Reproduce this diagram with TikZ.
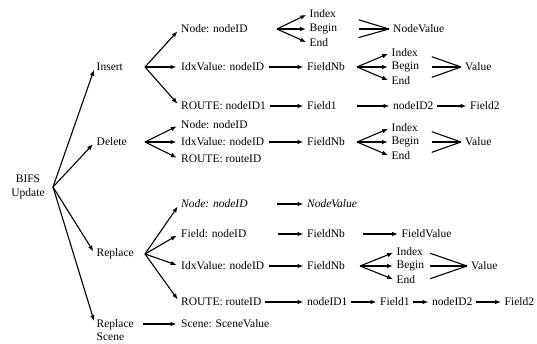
\documentclass[tikz,border=0pt]{standalone}
\usepackage{fontspec}
\setmainfont{Liberation Serif}
\usetikzlibrary{calc,positioning,arrows.meta}

\begin{document}
\begin{tikzpicture}
[x=1pt,y=-1pt,>={Latex[length=6pt,width=4.5pt]},
lbl/.style={anchor=west, inner sep=1.5pt, font=\fontsize{11.5}{14}\selectfont},
ibe/.style={lbl, text width=28pt},
val/.style={lbl, inner xsep=4pt}]
\useasboundingbox (0,0) rectangle (537,343);
\node[lbl, anchor=center, align=center] (bifs) at (28,187) {BIFS\\Update};
\node[lbl] (insert) at (95,67) {Insert};
\node[lbl] (delete) at (95,142) {Delete};
\node[lbl] (replace) at (95,254) {Replace};
\node[lbl, align=left, font=\fontsize{11.5}{12.5}\selectfont] (rscene) at (95,330) {Replace\\Scene};

% insert
\node[lbl] (insnode) at (179.5,29) {Node: nodeID};
\node[lbl] (insidx) at (179.5,67) {IdxValue: nodeID};
\node[lbl] (insroute) at (179.5,106) {ROUTE: nodeID1};
\node[ibe] (insindex) at (308,14) {Index};
\node[ibe] (insbegin) at (308,29) {Begin};
\node[ibe] (insend) at (308,43) {End};
\node[val] (insnv) at (389,29) {NodeValue};
\node[lbl] (insfnb) at (305.5,67) {FieldNb};
\node[ibe] (insindex2) at (390,53) {Index};
\node[ibe] (insbegin2) at (390,67) {Begin};
\node[ibe] (insend2) at (390,81) {End};
\node[val] (insval) at (461,67) {Value};
\node[lbl] (insfield) at (305.5,106) {Field1};
\node[lbl] (insnid) at (391.5,106) {nodeID2};
\node[lbl] (insfield2) at (468.5,106) {Field2};

% delete
\node[lbl] (delnode) at (179.5,125) {Node: nodeID};
\node[lbl] (delidx) at (179.5,142) {IdxValue: nodeID};
\node[lbl] (delroute) at (179.5,159) {ROUTE: routeID};
\node[lbl] (delfnb) at (305.5,142) {FieldNb};
\node[ibe] (delindex) at (390,128) {Index};
\node[ibe] (delbegin) at (390,142) {Begin};
\node[ibe] (delend) at (390,156) {End};
\node[val] (delval) at (461,142) {Value};

% replace
\node[lbl, font=\fontsize{11.5}{14}\selectfont\itshape] (repnode) at (179.5,204) {Node: nodeID};
\node[lbl, font=\fontsize{11.5}{14}\selectfont\itshape] (repnv) at (305.5,204) {NodeValue};
\node[lbl] (repfield) at (179.5,234) {Field: nodeID};
\node[lbl] (repfnb) at (305.5,234) {FieldNb};
\node[lbl] (repfv) at (400,234) {FieldValue};
\node[lbl] (repidx) at (179.5,266) {IdxValue: nodeID};
\node[lbl] (repfnb2) at (305.5,266) {FieldNb};
\node[ibe] (repindex) at (395,252) {Index};
\node[ibe] (repbegin) at (395,266) {Begin};
\node[ibe] (repend) at (395,280) {End};
\node[val] (repval) at (467,266) {Value};
\node[lbl] (reproute) at (179.5,302) {ROUTE: routeID};
\node[lbl] (repnid1) at (305.5,302) {nodeID1};
\node[lbl] (repfield1) at (378.5,302) {Field1};
\node[lbl] (repnid2) at (430.5,302) {nodeID2};
\node[lbl] (repfield2) at (503,302) {Field2};
\node[lbl] (scene) at (179.5,324) {Scene: SceneValue};

\coordinate (bifsout) at (53,187);
\coordinate (insout) at (145,67);
\coordinate (delout) at (145,142);
\coordinate (repout) at (145,254);
\coordinate (insnodeout) at (277,29);
\coordinate (insfnbout) at (357,67);
\coordinate (delfnbout) at (357,142);
\coordinate (repfnbout) at (360,266);

\begin{scope}[line width=1.1pt]
\path[->, shorten >=3pt] (bifsout) edge (insert.west)
        edge (delete.west)
        edge (replace.west)
        edge ([yshift=6pt]rscene.west);
\path[->, shorten >=3pt] (insout) edge (insnode.west)
        edge (insidx.west)
        edge (insroute.west);
\path[->, shorten >=3pt] (delout) edge (delnode.west)
        edge (delidx.west)
        edge (delroute.west);
\path[->, shorten >=3pt] (repout) edge (repnode.west)
        edge (repfield.west)
        edge (repidx.west)
        edge (reproute.west);
\draw[->, shorten <=8pt, shorten >=3pt] ([yshift=6pt]rscene.east) -- (scene.west);

\path[->, shorten >=2pt] (insnodeout) edge (insindex.west)
        edge (insbegin.west)
        edge (insend.west);
\path[shorten <=20pt] (insindex.east) edge (insnv.west)
        (insbegin.east) edge (insnv.west)
        (insend.east) edge (insnv.west);
\draw[->, shorten <=3pt, shorten >=2pt] (insidx) -- (insfnb);
\path[->, shorten >=2pt] (insfnbout) edge (insindex2.west)
        edge (insbegin2.west)
        edge (insend2.west);
\path[shorten <=11pt] (insindex2.east) edge (insval.west)
        (insbegin2.east) edge (insval.west)
        (insend2.east) edge (insval.west);
\draw[->, shorten <=2pt, shorten >=2pt] (insroute) -- (insfield);
\draw[->, shorten <=19pt, shorten >=2pt] (insfield) -- (insnid);
\draw[->, shorten <=2pt, shorten >=2pt] (insnid) -- (insfield2);

\draw[->, shorten <=3pt, shorten >=2pt] (delidx) -- (delfnb);
\path[->, shorten >=2pt] (delfnbout) edge (delindex.west)
        edge (delbegin.west)
        edge (delend.west);
\path[shorten <=11pt] (delindex.east) edge (delval.west)
        (delbegin.east) edge (delval.west)
        (delend.east) edge (delval.west);

\draw[->, shorten <=28pt, shorten >=2pt] (repnode) -- (repnv);
\draw[->, shorten <=30pt, shorten >=2pt] (repfield) -- (repfnb);
\draw[->, shorten <=16pt, shorten >=2pt] (repfnb) -- (repfv);
\draw[->, shorten <=3pt, shorten >=2pt] (repidx) -- (repfnb2);
\path[->, shorten >=2pt] (repfnbout) edge (repindex.west)
        edge (repbegin.west)
        edge (repend.west);
\path[shorten <=4pt] (repindex.east) edge (repval.west)
        (repbegin.east) edge (repval.west)
        (repend.east) edge (repval.west);
\draw[->, shorten <=2pt, shorten >=2pt] (reproute) -- (repnid1);
\draw[->, shorten <=2pt, shorten >=2pt] (repnid1) -- (repfield1);
\draw[->, shorten <=2pt, shorten >=2pt] (repfield1) -- (repnid2);
\draw[->, shorten <=2pt, shorten >=2pt] (repnid2) -- (repfield2);
\end{scope}
\end{tikzpicture}
\end{document}
